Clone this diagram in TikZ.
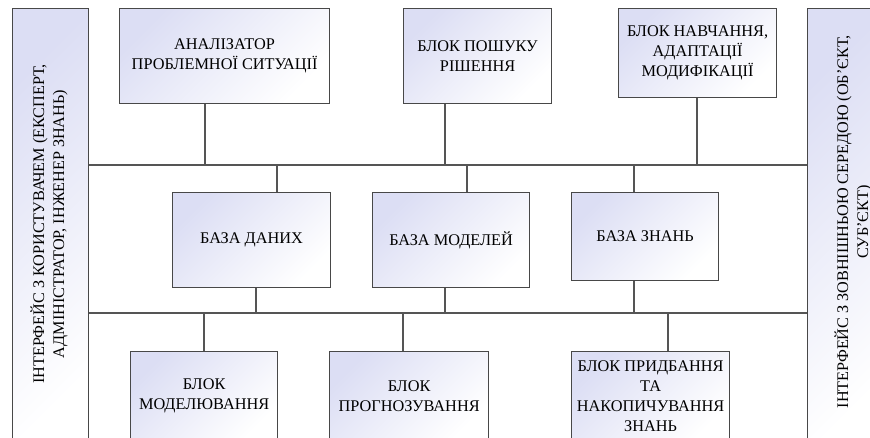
\documentclass[tikz,border=0pt]{standalone}
\usepackage{fontspec}
\setmainfont{Liberation Serif}
\definecolor{lav}{RGB}{220,222,244}
\definecolor{edge}{RGB}{72,72,72}
\definecolor{wire}{RGB}{85,85,85}
\begin{document}
\begin{tikzpicture}[x=1pt,y=-1pt,
  box/.style={draw=edge, line width=1.2pt, top color=lav, middle color=white,
    bottom color=white, shading angle=45, inner sep=0pt, align=center,
    anchor=north west, font=\fontsize{16.3}{20}\selectfont},
  sidetext/.style={rotate=90, align=center, inner sep=0pt,
    font=\fontsize{16.2}{20}\selectfont},
  conn/.style={draw=wire, line width=1.1pt}]
\useasboundingbox (0,0) rectangle (870,437);
\clip (0,0) rectangle (870,437);
% bus coordinates
\coordinate (bus1) at (0,165);
\coordinate (bus2) at (0,313);
\coordinate (xa) at (205,0);
\coordinate (xb) at (445,0);
\coordinate (xc) at (697,0);
\coordinate (xd1) at (277,0);
\coordinate (xm1) at (467,0);
\coordinate (xk) at (634,0);
\coordinate (xd2) at (256,0);
\coordinate (xm2) at (445,0);
\coordinate (xo) at (204,0);
\coordinate (xp) at (403,0);
\coordinate (xq) at (668,0);
% interfaces
\node[box, minimum width=76pt, minimum height=440pt] (L) at (12,8) {};
\node[box, minimum width=85pt, minimum height=440pt] (R) at (807,8) {};
\node[sidetext] (Lt) at (49,224) {ІНТЕРФЕЙС З КОРИСТУВАЧЕМ (ЕКСПЕРТ,\\АДМІНІСТРАТОР, ІНЖЕНЕР ЗНАНЬ)};
\node[sidetext] (Rt) at (853,222) {ІНТЕРФЕЙС З ЗОВНІШНЬОЮ СЕРЕДОЮ (ОБ’ЄКТ,\\СУБ’ЄКТ)};
% top row
\node[box, minimum width=210pt, minimum height=95pt] (A) at (119,8) {АНАЛІЗАТОР\\ПРОБЛЕМНОЇ СИТУАЦІЇ};
\node[box, minimum width=148pt, minimum height=95pt] (B) at (403,8) {БЛОК ПОШУКУ\\РІШЕННЯ};
\node[box, minimum width=158pt, minimum height=89pt] (C) at (618,8) {БЛОК НАВЧАННЯ,\\АДАПТАЦІЇ\\МОДИФІКАЦІЇ};
% middle row
\node[box, minimum width=158pt, minimum height=95pt] (D) at (172,192) {БАЗА ДАНИХ};
\node[box, minimum width=157pt, minimum height=95pt] (M) at (372,192) {БАЗА МОДЕЛЕЙ};
\node[box, minimum width=147pt, minimum height=88pt] (K) at (571,192) {БАЗА ЗНАНЬ};
% bottom row
\node[box, minimum width=147pt, minimum height=89pt] (O) at (130,351) {БЛОК\\МОДЕЛЮВАННЯ};
\node[box, minimum width=159pt, minimum height=89pt] (P) at (329,351) {БЛОК\\ПРОГНОЗУВАННЯ};
\node[box, minimum width=158pt, minimum height=89pt] (Q) at (571,351) {БЛОК ПРИДБАННЯ\\ТА\\НАКОПИЧУВАННЯ\\ЗНАНЬ};
% buses
\draw[conn] (L.east |- bus1) -- (R.west |- bus1);
\draw[conn] (L.east |- bus2) -- (R.west |- bus2);
% top connectors
\draw[conn] (A.south -| xa) -- (xa |- bus1);
\draw[conn] (B.south -| xb) -- (xb |- bus1);
\draw[conn] (C.south -| xc) -- (xc |- bus1);
% middle connectors
\draw[conn] (xd1 |- bus1) -- (D.north -| xd1);
\draw[conn] (xm1 |- bus1) -- (M.north -| xm1);
\draw[conn] (xk |- bus1) -- (K.north -| xk);
\draw[conn] (D.south -| xd2) -- (xd2 |- bus2);
\draw[conn] (M.south -| xm2) -- (xm2 |- bus2);
\draw[conn] (K.south -| xk) -- (xk |- bus2);
% bottom connectors
\draw[conn] (xo |- bus2) -- (O.north -| xo);
\draw[conn] (xp |- bus2) -- (P.north -| xp);
\draw[conn] (xq |- bus2) -- (Q.north -| xq);
\end{tikzpicture}
\end{document}
